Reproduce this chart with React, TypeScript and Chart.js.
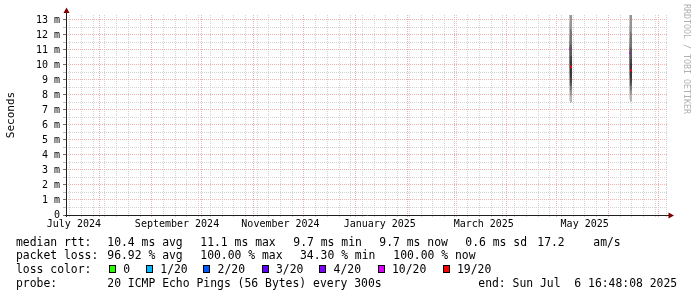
import React, { useEffect, useRef } from 'react';
import { Chart, registerables } from 'chart.js';

Chart.register(...registerables);

// ---------- data ----------
const START_TIME = '2024-07-11T16:48:08Z';
const END_TIME = '2025-07-06T16:48:08Z';
const Y_TOP = 13.333; // ms at top of plot

const yTickValues = [0, 0.5, 1, 1.5, 2, 2.5, 3, 3.5, 4, 4.5, 5, 5.5, 6, 6.5, 7, 7.5, 8, 8.5, 9, 9.5, 10, 10.5, 11, 11.5, 12, 12.5, 13];

const monthStarts = ['2024-08-01', '2024-09-01', '2024-10-01', '2024-11-01', '2024-12-01', '2025-01-01', '2025-02-01', '2025-03-01', '2025-04-01', '2025-05-01', '2025-06-01', '2025-07-01'];
const FIRST_WEEK_LINE = '2024-07-14';
const monthLabels = ['July 2024', 'September 2024', 'November 2024', 'January 2025', 'March 2025', 'May 2025'];
const monthLabelTimes = ['2024-07-16T10:00Z', '2024-09-16T02:00Z', '2024-11-16T23:00Z', '2025-01-15T08:00Z', '2025-03-18T13:00Z', '2025-05-17T21:00Z'];

// smoke columns (one per consolidated step)
const smokeTimes = ['2025-05-08T19:08Z', '2025-05-09T09:29Z', '2025-05-09T23:50Z', '2025-06-13T16:15Z', '2025-06-14T06:36Z', '2025-06-14T20:57Z'];
// ping spread bands, outermost first (ms)
const smokeLow = [
  [7.6, 7.47, 7.5, 7.7, 7.55, 7.6],
  [8.2, 7.95, 8.0, 8.2, 8.0, 8.05],
  [8.6, 8.3, 8.35, 8.6, 8.3, 8.35],
  [9.0, 8.6, 8.65, 9.0, 8.6, 8.65],
  [9.4, 8.8, 8.85, 9.3, 8.8, 8.85],
  [9.8, 9.2, 9.25, 9.7, 9.1, 9.15],
];
const smokeHigh = [
  [13.6, 13.6, 13.6, 13.6, 13.6, 13.6],
  [13.6, 13.6, 13.6, 13.6, 13.6, 13.6],
  [12.8, 12.4, 12.3, 12.6, 12.2, 12.1],
  [12.0, 11.4, 11.3, 11.8, 11.2, 11.1],
  [11.6, 10.6, 10.6, 11.4, 10.4, 10.4],
  [11.3, 10.3, 10.3, 11.1, 10.1, 10.1],
];
const medianRtt = [11.1, 9.9, 9.87, 10.78, 9.63, 9.63];
const medianLoss = ['10/20', '19/20', '19/20', '10/20', '19/20', '19/20'];

const lossSteps = ['0', '1/20', '2/20', '3/20', '4/20', '10/20', '19/20'];
const lossColors = ['#26ff00', '#00b8ff', '#0059ff', '#5e00ff', '#7e00ff', '#dd00ff', '#ff0000'];

const rttValues = [10.4, 11.1, 9.7, 9.7, 0.6];
const rttNames = ['avg', 'max', 'min', 'now', 'sd'];
const amPerSec = 17.2;
const lossValues = [96.92, 100.0, 34.3, 100.0];
const lossNames = ['avg', 'max', 'min', 'now'];
const probeText = '20 ICMP Echo Pings (56 Bytes) every 300s';
const endText = 'end: Sun Jul  6 16:48:08 2025';

// ---------- layout / style ----------
const W = 697;
const H = 297;
const MONO = "'DejaVu Sans Mono', monospace";
const lightCols = [true, false, false, true, false, false];
const darkShades = ['#b4b4b4', '#959595', '#777777', '#5a5a5a', '#464646', '#383838'];
const lightShades = ['#d4d4d4', '#c6c6c6', '#b4b4b4', '#a2a2a2', '#909090', '#828282'];
const rttX = [107.3, 200.3, 293.3, 379.3, 465.3];
const amX = [537.3, 593.3];
const lossX = [107.3, 200.3, 300, 393.3];
const boxX = [109, 146, 203.3, 261.7, 319.3, 377.7, 442.7];
const LEGEND_FONT = 11.4;
const rowTop = [234.5, 248.2, 261.9, 275.6];

const DAY = 86400000;

const arrowPlugin = {
  id: 'rrdAxes',
  afterDraw(chart: any) {
    const { ctx, chartArea: a } = chart;
    ctx.save();
    ctx.strokeStyle = '#1f1f1f';
    ctx.lineWidth = 1;
    ctx.beginPath();
    ctx.moveTo(a.left + 0.5, a.bottom + 2);
    ctx.lineTo(a.left + 0.5, a.top - 3);
    ctx.moveTo(a.left - 1, a.bottom + 0.5);
    ctx.lineTo(a.right + 2, a.bottom + 0.5);
    ctx.stroke();
    ctx.fillStyle = '#7f0000';
    ctx.beginPath();
    ctx.moveTo(a.left + 0.5, a.top - 7.5);
    ctx.lineTo(a.left + 3.5, a.top - 2);
    ctx.lineTo(a.left - 2.5, a.top - 2);
    ctx.closePath();
    ctx.fill();
    ctx.beginPath();
    ctx.moveTo(a.right + 6, a.bottom + 0.5);
    ctx.lineTo(a.right + 0.5, a.bottom - 2.5);
    ctx.lineTo(a.right + 0.5, a.bottom + 3.5);
    ctx.closePath();
    ctx.fill();
    ctx.restore();
  },
};

function buildXTicks() {
  const startMs = Date.parse(START_TIME);
  const endMs = Date.parse(END_TIME);
  const monthMs = monthStarts.map((d) => Date.parse(d + 'T00:00:00Z'));
  const ticks: any[] = [];
  for (let t = Date.parse(FIRST_WEEK_LINE + 'T00:00:00Z'); t < endMs; t += 7 * DAY) {
    if (t > startMs && !monthMs.includes(t)) ticks.push({ value: t, kind: 'week', lbl: '' });
  }
  monthMs.forEach((t) => ticks.push({ value: t, kind: 'month', lbl: '' }));
  monthLabelTimes.forEach((d, i) => ticks.push({ value: Date.parse(d), kind: 'label', lbl: monthLabels[i] }));
  ticks.sort((p, q) => p.value - q.value);
  return ticks;
}

const GRID_GRAY = '#d2d2d2';
const GRID_PINK = '#f0b0b0';

export default function App() {
  const ref = useRef<HTMLCanvasElement | null>(null);

  useEffect(() => {
    if (!ref.current) return;
    const xs = smokeTimes.map((t) => Date.parse(t));
    const datasets: any[] = [];
    datasets.push({
      label: 'median',
      data: xs.map((x, i) => ({ x, y: [medianRtt[i] - 0.07, medianRtt[i] + 0.07] })),
      backgroundColor: medianLoss.map((l) => lossColors[lossSteps.indexOf(l)]),
      order: 0,
    });
    for (let layer = smokeLow.length - 1; layer >= 0; layer--) {
      datasets.push({
        label: 'smoke' + layer,
        data: xs.map((x, i) => ({ x, y: [smokeLow[layer][i], smokeHigh[layer][i]] })),
        backgroundColor: xs.map((_, i) => (lightCols[i] ? lightShades[layer] : darkShades[layer])),
        order: 10 + (smokeLow.length - layer),
      });
    }
    datasets.forEach((d) => {
      d.barThickness = 1;
      d.grouped = false;
      d.borderWidth = 0;
      d.inflateAmount = 0;
    });

    const xTicks = buildXTicks();
    const xColor = (c: any) =>
      c.tick ? (c.tick.kind === 'month' ? GRID_PINK : c.tick.kind === 'week' ? GRID_GRAY : 'rgba(0,0,0,0)') : GRID_GRAY;

    const chart = new Chart(ref.current, {
      type: 'bar',
      data: { datasets },
      plugins: [arrowPlugin],
      options: {
        animation: false,
        responsive: false,
        maintainAspectRatio: false,
        devicePixelRatio: 1,
        layout: { padding: { left: 0, top: 15, right: 29, bottom: 0 } },
        plugins: { legend: { display: false }, tooltip: { enabled: false } },
        scales: {
          x: {
            type: 'linear',
            min: Date.parse(START_TIME),
            max: Date.parse(END_TIME),
            offset: false,
            afterBuildTicks: (scale: any) => {
              scale.ticks = xTicks.map((t) => ({ ...t }));
            },
            afterFit: (scale: any) => {
              scale.height = H - 215;
            },
            grid: {
              offset: false,
              lineWidth: 1,
              color: xColor,
              tickColor: xColor,
              tickLength: 2,
              drawTicks: true,
            },
            border: { display: false, dash: [1, 1] },
            ticks: {
              autoSkip: false,
              maxRotation: 0,
              minRotation: 0,
              padding: 1,
              color: '#000',
              font: { family: MONO, size: 10 },
              callback: (_v: any, i: number, ticks: any[]) => (ticks[i] && ticks[i].lbl) || '',
            },
          },
          y: {
            type: 'linear',
            min: 0,
            max: Y_TOP,
            afterBuildTicks: (scale: any) => {
              scale.ticks = yTickValues.map((v) => ({ value: v }));
            },
            afterFit: (scale: any) => {
              scale.width = 66;
            },
            grid: {
              lineWidth: 1,
              color: (c: any) => (c.tick && Number.isInteger(c.tick.value) ? GRID_PINK : GRID_GRAY),
              tickColor: (c: any) => (c.tick && Number.isInteger(c.tick.value) ? '#707070' : '#c0c0c0'),
              tickLength: 3,
              drawTicks: true,
            },
            border: { display: false, dash: [1, 1] },
            title: {
              display: true,
              text: 'Seconds',
              color: '#000',
              font: { family: MONO, size: 11 },
              padding: { top: 4.4, bottom: 0 },
            },
            ticks: {
              autoSkip: false,
              padding: 3,
              color: '#000',
              font: { family: MONO, size: 10 },
              callback: (v: any) => {
                const n = Number(v);
                if (!Number.isInteger(n)) return '';
                return n === 0 ? '0' : n + ' m';
              },
            },
          },
        },
      } as any,
    });
    return () => chart.destroy();
  }, []);

  const textStyle = (left: number, top: number): React.CSSProperties => ({
    position: 'absolute',
    left,
    top,
    fontFamily: MONO,
    fontSize: LEGEND_FONT,
    lineHeight: 'normal',
    whiteSpace: 'pre',
    color: '#000',
  });

  return (
    <div style={{ position: 'absolute', left: 0, top: 0, width: W, height: H, background: '#fff', overflow: 'hidden' }}>
      <canvas ref={ref} width={W} height={H} style={{ position: 'absolute', left: 0, top: 0, width: W, height: H }} />
      <div
        style={{
          position: 'absolute',
          left: 682,
          top: 4,
          writingMode: 'vertical-rl',
          fontFamily: MONO,
          fontSize: 8.3,
          lineHeight: '9px',
          color: '#b0b0b0',
          whiteSpace: 'pre',
        }}
      >
        RRDTOOL / TOBI OETIKER
      </div>
      <div style={textStyle(16, rowTop[0])}>median rtt:</div>
      {rttValues.map((v, i) => (
        <div key={'r' + i} style={textStyle(rttX[i], rowTop[0])}>{`${v.toFixed(1)} ms ${rttNames[i]}`}</div>
      ))}
      <div style={textStyle(amX[0], rowTop[0])}>{amPerSec.toFixed(1)}</div>
      <div style={textStyle(amX[1], rowTop[0])}>am/s</div>
      <div style={textStyle(16, rowTop[1])}>packet loss:</div>
      {lossValues.map((v, i) => (
        <div key={'l' + i} style={textStyle(lossX[i], rowTop[1])}>{`${v.toFixed(2)} % ${lossNames[i]}`}</div>
      ))}
      <div style={textStyle(16, rowTop[2])}>loss color:</div>
      {lossSteps.map((s, i) => (
        <React.Fragment key={'c' + i}>
          <div
            style={{
              position: 'absolute',
              left: boxX[i],
              top: 265,
              width: 7,
              height: 8,
              boxSizing: 'border-box',
              border: '1px solid #000',
              background: lossColors[i],
            }}
          />
          <div style={textStyle(boxX[i] + 14.3, rowTop[2])}>{s}</div>
        </React.Fragment>
      ))}
      <div style={textStyle(16, rowTop[3])}>probe:</div>
      <div style={textStyle(107.3, rowTop[3])}>{probeText}</div>
      <div style={textStyle(478.3, rowTop[3])}>{endText}</div>
    </div>
  );
}
